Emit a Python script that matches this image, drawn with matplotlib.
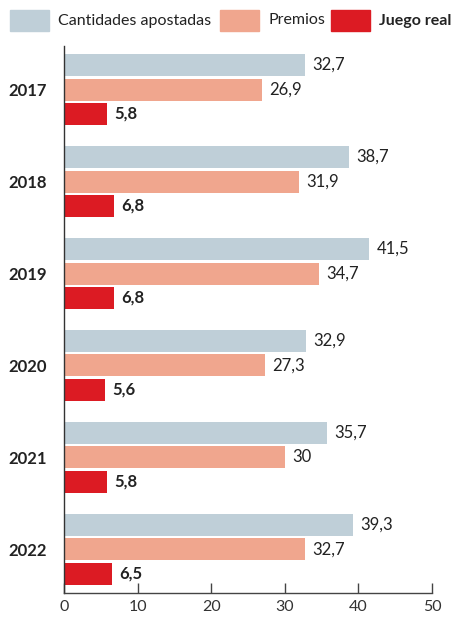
import matplotlib.pyplot as plt
from matplotlib.patches import Rectangle
import numpy as np

plt.rcParams['font.family'] = ['Lato', 'DejaVu Sans']

years = ['2017', '2018', '2019', '2020', '2021', '2022']
apostadas = [32.7, 38.7, 41.5, 32.9, 35.7, 39.3]
premios = [26.9, 31.9, 34.7, 27.3, 30, 32.7]
juego_real = [5.8, 6.8, 6.8, 5.6, 5.8, 6.5]

series_names = ['Cantidades apostadas', 'Premios', 'Juego real']
colors = ['#bfcfd8', '#f0a68e', '#dc1b23']
text_color = '#222222'


def fmt(v):
    s = ('%.1f' % v).rstrip('0').rstrip('.')
    return s.replace('.', ',')


W, H = 451, 619
fig = plt.figure(figsize=(W / 100, H / 100), dpi=100)
ax = fig.add_axes([64 / W, 26 / H, (432 - 64) / W, (593 - 46) / H])

pitch = 24.5 / 92
height = 22 / 92
y = np.arange(len(years))
all_series = [apostadas, premios, juego_real]
for k, (vals, clr) in enumerate(zip(all_series, colors)):
    pos = y + (k - 1) * pitch
    ax.barh(pos, vals, height=height, color=clr, edgecolor='none')
    for p, v in zip(pos, vals):
        ax.text(v + 1.0, p, fmt(v), va='center', ha='left', fontsize=12,
                color=text_color, fontweight='bold' if k == 2 else 'normal')

ax.set_ylim(len(years) - 0.527, -0.473)
ax.set_xlim(0, 50)
ax.set_yticks(y)
ax.set_yticklabels(years, fontsize=12, fontweight='bold', color=text_color)
ax.tick_params(axis='y', length=0, pad=12)
ax.set_xticks([0, 10, 20, 30, 40, 50])
ax.tick_params(axis='x', direction='in', length=7, width=1, color='#444444',
               labelsize=11.5, labelcolor='#333333', pad=5)
for s in ['top', 'right']:
    ax.spines[s].set_visible(False)
ax.spines['left'].set_color('#333333')
ax.spines['bottom'].set_color('#444444')
ax.spines['left'].set_linewidth(1)
ax.spines['bottom'].set_linewidth(1)

# legend drawn at the top
legend_x = [10, 220, 331]
for name, clr, lx in zip(series_names, colors, legend_x):
    fig.patches.append(Rectangle((lx / W, 1 - 31 / H), 39 / W, 21 / H,
                                 transform=fig.transFigure, color=clr))
    fig.text((lx + 48) / W, 1 - 20.5 / H, name, ha='left', va='center',
             fontsize=11.5, color=text_color,
             fontweight='bold' if name == 'Juego real' else 'normal')

fig.savefig('out.png', dpi=100)
